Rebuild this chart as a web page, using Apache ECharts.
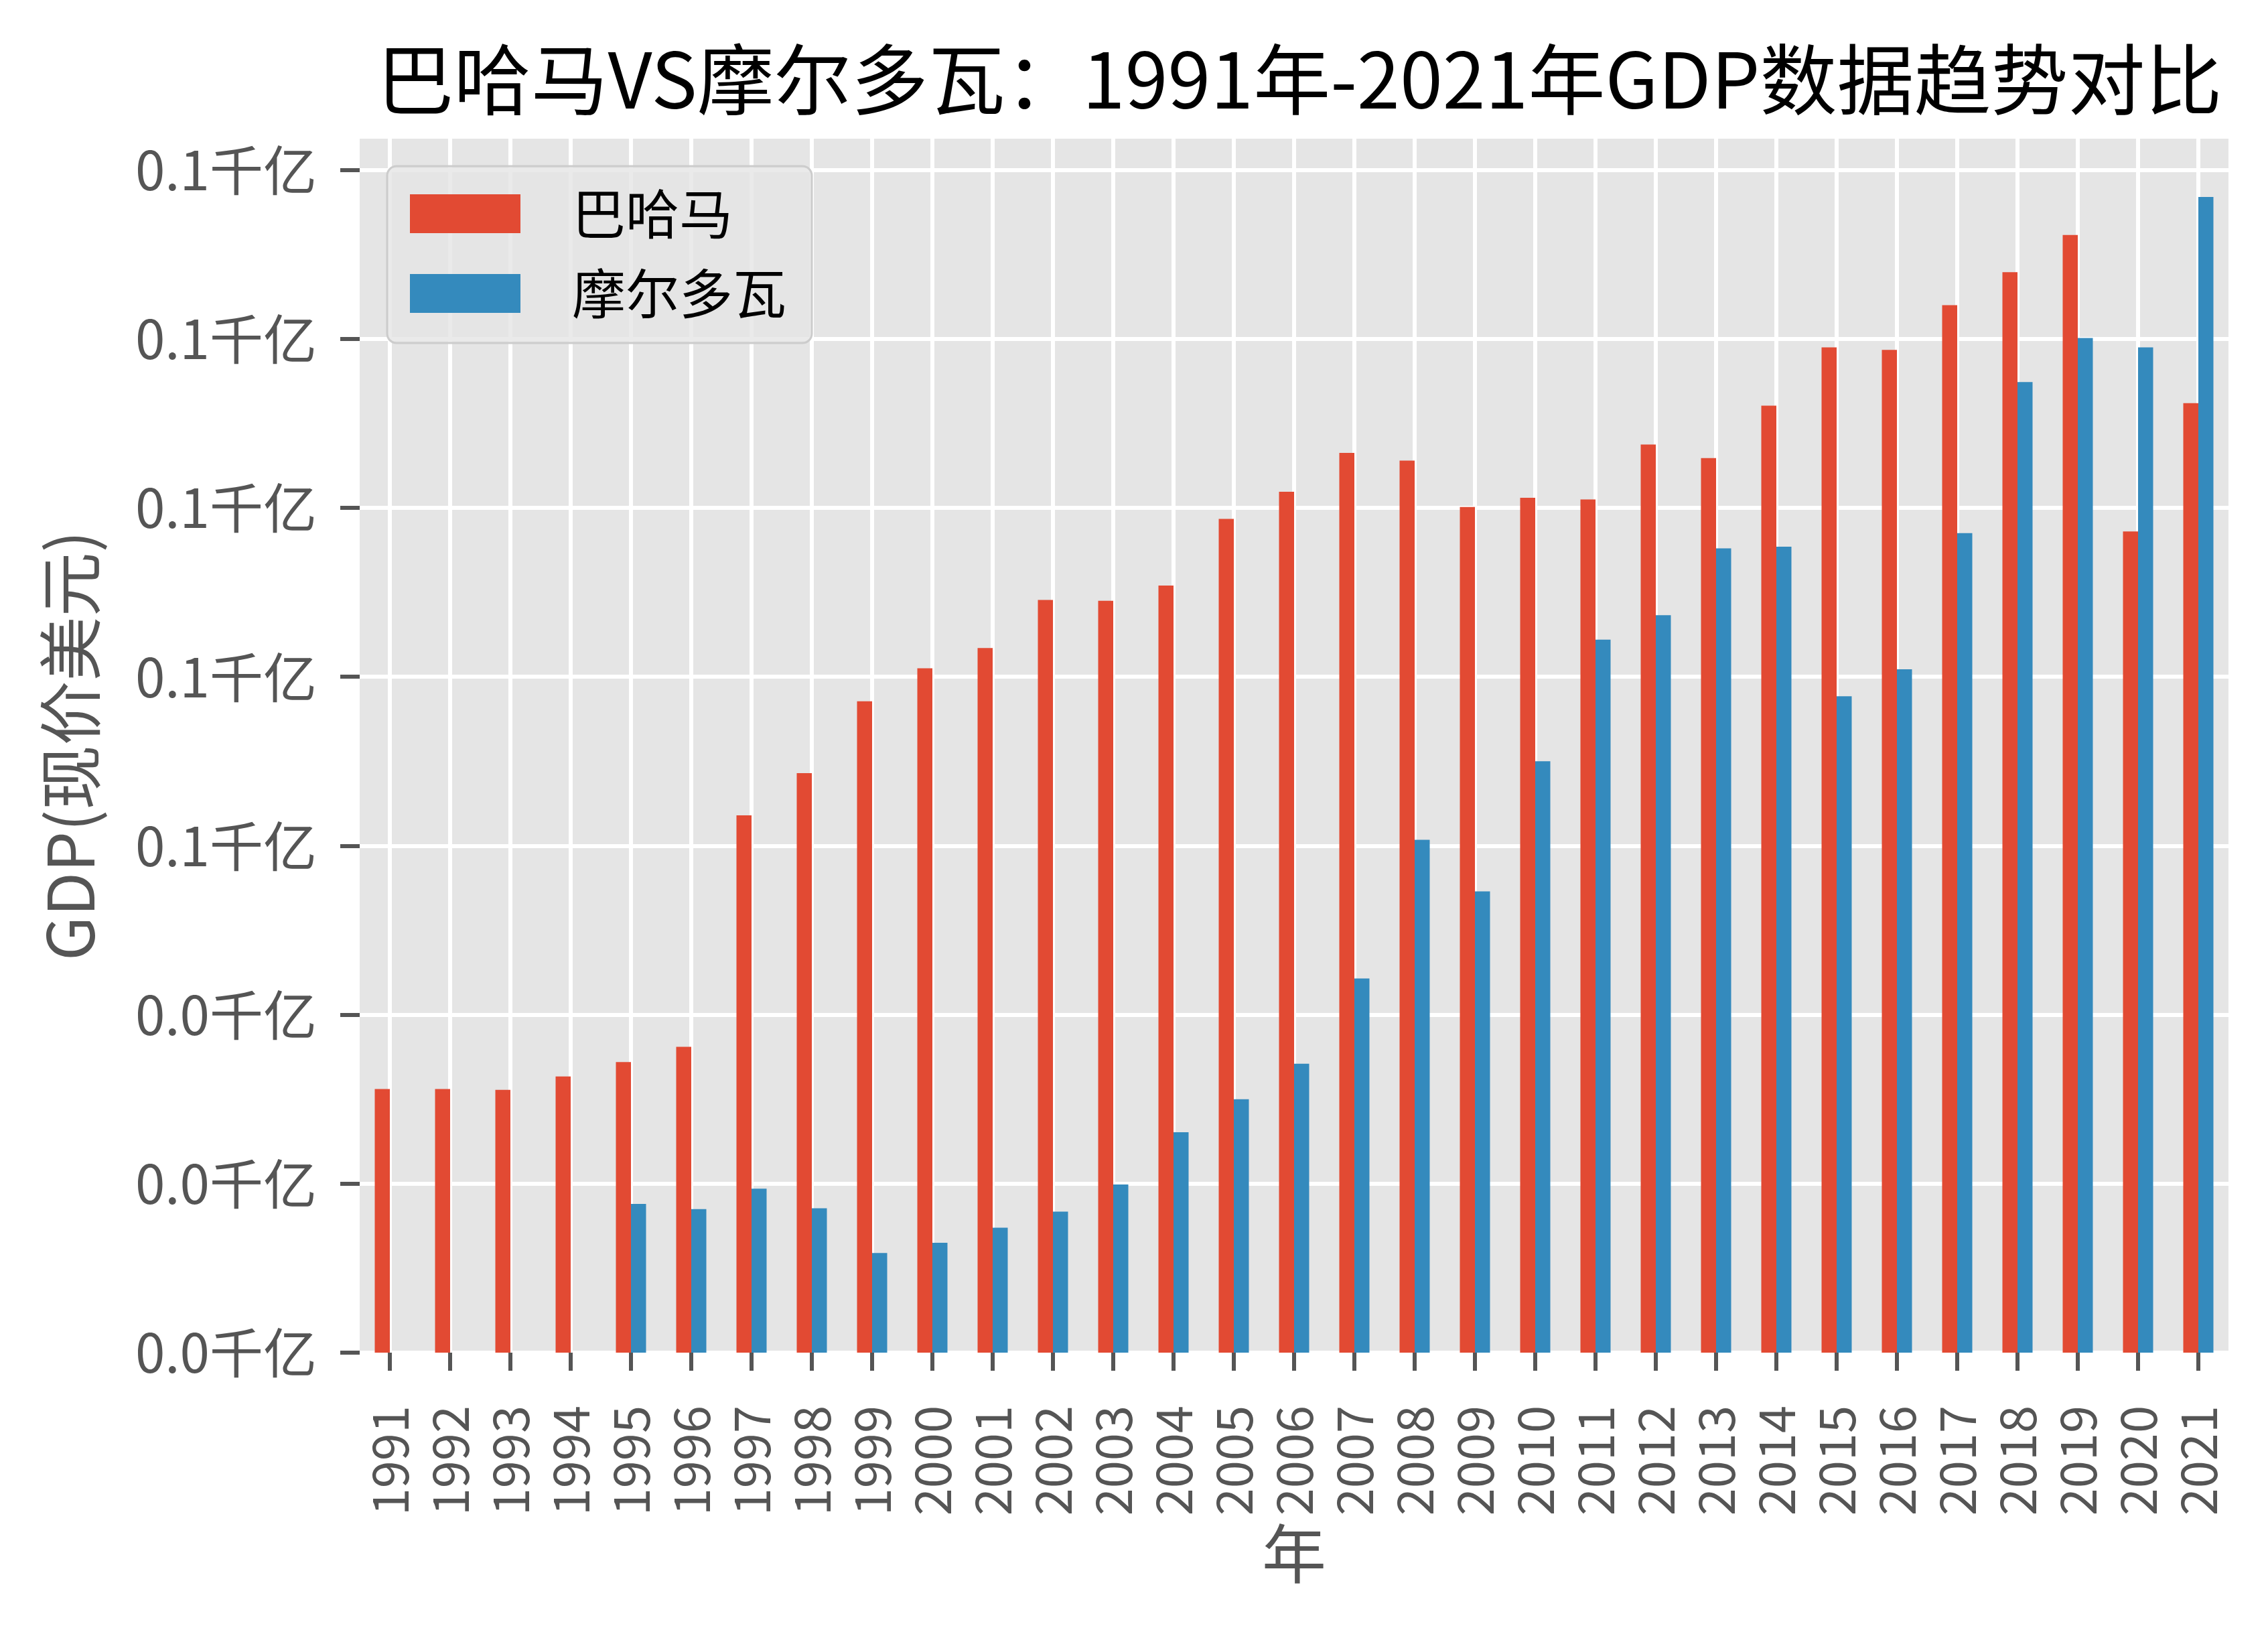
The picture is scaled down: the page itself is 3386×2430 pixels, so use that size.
<!DOCTYPE html>
<html>
<head>
<meta charset="utf-8">
<script src="https://cdn.jsdelivr.net/npm/echarts@6/dist/echarts.min.js"></script>
<style>
html,body{margin:0;padding:0;background:#fff;}
#c{width:3386px;height:2430px;}
</style>
</head>
<body>
<div id="c"></div>
<script>
const years = ['1991','1992','1993','1994','1995','1996','1997','1998','1999','2000','2001','2002','2003','2004','2005','2006','2007','2008','2009','2010','2011','2012','2013','2014','2015','2016','2017','2018','2019','2020','2021'];
// GDP, current US$, in billions
const bahamas = [3.12,3.12,3.11,3.27,3.44,3.62,6.36,6.86,7.71,8.10,8.34,8.91,8.90,9.08,9.87,10.19,10.65,10.56,10.01,10.12,10.10,10.75,10.59,11.21,11.90,11.87,12.40,12.79,13.23,9.72,11.24];
const moldova = [null,null,null,null,1.76,1.70,1.94,1.71,1.18,1.30,1.48,1.67,1.99,2.61,3.00,3.42,4.43,6.07,5.46,7.00,8.44,8.73,9.52,9.54,7.77,8.09,9.70,11.49,12.01,11.90,13.68];
const yTicks = [0,2e9,4e9,6e9,8e9,10e9,12e9,14e9];
const seriesNames = ['巴哈马','摩尔多瓦'];

const toUSD = arr => arr.map(v => v === null ? null : v * 1e9);
const FONT = '"Noto Sans CJK SC", "Noto Sans", sans-serif';

const chart = echarts.init(document.getElementById('c'), null, {renderer:'canvas'});
chart.setOption({
  animation: false,
  backgroundColor: '#ffffff',
  title: {
    text: '巴哈马VS摩尔多瓦：1991年-2021年GDP数据趋势对比',
    left: 1935,
    top: 56,
    textAlign: 'center',
    textStyle: {fontFamily: FONT, fontSize: 115, fontWeight: 'normal', color: '#000000'}
  },
  legend: {
    data: seriesNames,
    orient: 'vertical',
    left: 578,
    top: 248,
    icon: 'rect',
    itemWidth: 165,
    itemHeight: 58,
    itemGap: 39,
    padding: [31, 38, 34, 34],
    backgroundColor: 'rgba(229,229,229,0.8)',
    borderColor: '#cccccc',
    borderWidth: 3,
    borderRadius: 14,
    textStyle: {fontFamily: FONT, fontSize: 80, lineHeight: 80, color: '#000000', padding: [0,0,0,72]}
  },
  grid: {
    left: 537, top: 207, right: 59, bottom: 411,
    show: true, backgroundColor: '#E5E5E5', borderWidth: 0,
    containLabel: false, outerBoundsMode: 'none'
  },
  xAxis: {
    type: 'category',
    data: years,
    boundaryGap: true,
    name: '年',
    nameLocation: 'middle',
    nameGap: 250,
    nameTextStyle: {fontFamily: FONT, fontSize: 96, color: '#555555'},
    axisLine: {show: false},
    axisTick: {show: true, alignWithLabel: true, length: 27, lineStyle: {color: '#555555', width: 6}},
    axisLabel: {rotate: 90, margin: 79, interval: 0, fontFamily: FONT, fontSize: 74, color: '#555555'},
    splitLine: {show: true, alignWithLabel: true, lineStyle: {color: '#ffffff', width: 6}}
  },
  yAxis: {
    type: 'value',
    min: 0,
    max: 14.37e9,
    interval: 2e9,
    name: 'GDP(现价美元)',
    nameLocation: 'middle',
    nameRotate: 90,
    nameGap: 384,
    nameTextStyle: {fontFamily: FONT, fontSize: 96, color: '#555555'},
    axisLine: {show: false},
    axisTick: {show: true, length: 29, customValues: yTicks, lineStyle: {color: '#555555', width: 6}},
    axisLabel: {
      margin: 64, fontFamily: FONT, fontSize: 80, color: '#555555',
      customValues: yTicks,
      formatter: v => (v / 1e11).toFixed(1) + '千亿'
    },
    splitLine: {show: true, lineStyle: {color: '#ffffff', width: 6}}
  },
  series: [
    {name: seriesNames[0], type: 'bar', data: toUSD(bahamas), barWidth: '25%', barGap: '0%', itemStyle: {color: '#E24A33'}},
    {name: seriesNames[1], type: 'bar', data: toUSD(moldova), barWidth: '25%', barGap: '0%', itemStyle: {color: '#348ABD'}}
  ]
});
</script>
</body>
</html>
